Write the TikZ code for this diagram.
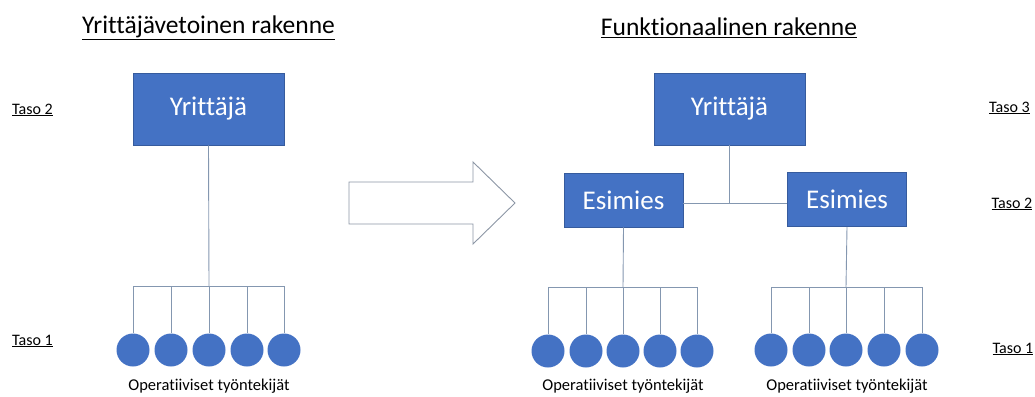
\documentclass[tikz,border=0pt]{standalone}
\usepackage{fontspec}
\setmainfont{Carlito}[Ligatures={NoCommon}]
\definecolor{boxblue}{RGB}{68,114,196}
\definecolor{conncol}{RGB}{132,151,176}
\definecolor{arrowcol}{RGB}{140,150,165}
\tikzset{
  titletext/.style={font=\fontsize{25.5}{30}\selectfont, inner sep=0pt},
  tasotext/.style={font=\fontsize{16}{19}\selectfont, inner sep=0pt},
  optext/.style={font=\fontsize{16.5}{19}\selectfont, inner sep=0pt},
  bigbox/.style={rectangle, fill=boxblue, draw=boxblue!80!black, line width=0.6pt, text=white, minimum width=151pt, minimum height=72pt, font=\fontsize{27}{32}\selectfont},
  midbox/.style={rectangle, fill=boxblue, draw=boxblue!80!black, line width=0.6pt, text=white, minimum width=119pt, minimum height=54pt, font=\fontsize{27}{32}\selectfont},
  worker/.style={circle, fill=boxblue, draw=none, minimum size=33pt, inner sep=0pt},
  conn/.style={draw=conncol, line width=0.9pt},
}
\begin{document}
\begin{tikzpicture}[x=1pt,y=-1pt]
\useasboundingbox (0,0) rectangle (1035,396);
% titles
\node[titletext] (t1) at (208.5,28) {\underline{Yrittäjävetoinen rakenne}};
\node[titletext] (t2) at (729,28) {\underline{Funktionaalinen rakenne}};
% level labels
\node[tasotext] (l2) at (32.5,110) {\underline{Taso 2}};
\node[tasotext] (l1) at (32.5,341) {\underline{Taso 1}};
\node[tasotext] (r3) at (1009.5,108) {\underline{Taso 3}};
\node[tasotext] (r2) at (1012,204) {\underline{Taso 2}};
\node[tasotext] (r1) at (1013,349) {\underline{Taso 1}};
% left structure
\node[bigbox] (Y1) at (208.5,109) {Yrittäjä};
\foreach \i/\x in {1/133,2/171,3/209,4/247,5/284}{
  \node[worker] (a\i) at (\x,350) {};
}
\coordinate (busA) at (209,286);
\draw[conn] (Y1.south) -- (busA);
\foreach \i in {1,...,5}{ \draw[conn] (a\i.north) |- (busA); }
\node[optext] (opA) at (209,386) {Operatiiviset työntekijät};
% block arrow
\draw[draw=arrowcol, fill=white, line width=0.9pt, line join=miter]
  (349,182) -- (473,182) -- (473,162) -- (515,203) -- (473,244) -- (473,224) -- (349,224) -- cycle;
% right structure
\node[bigbox] (Y2) at (729.5,109) {Yrittäjä};
\node[midbox] (E1) at (623.5,200) {Esimies};
\node[midbox] (E2) at (847,199.5) {Esimies};
\coordinate (mid) at (Y2.south |- 0,203);
\draw[conn] (Y2.south) -- (mid);
\draw[conn] (E1.east |- mid) -- (E2.west |- mid);
\foreach \i/\x in {1/548,2/586,3/623,4/660,5/697}{
  \node[worker] (b\i) at (\x,351) {};
}
\foreach \i/\x in {1/771,2/809,3/846,4/884,5/922}{
  \node[worker] (c\i) at (\x,350) {};
}
\coordinate (busB) at (623,287);
\coordinate (busC) at (846,287);
\draw[conn] (E1.south) -- (busB);
\draw[conn] (E2.south) -- (busC);
\foreach \i in {1,...,5}{ \draw[conn] (b\i.north) |- (busB); \draw[conn] (c\i.north) |- (busC); }
\node[optext] (opB) at (623,386.5) {Operatiiviset työntekijät};
\node[optext] (opC) at (847,386.5) {Operatiiviset työntekijät};
\end{tikzpicture}
\end{document}
